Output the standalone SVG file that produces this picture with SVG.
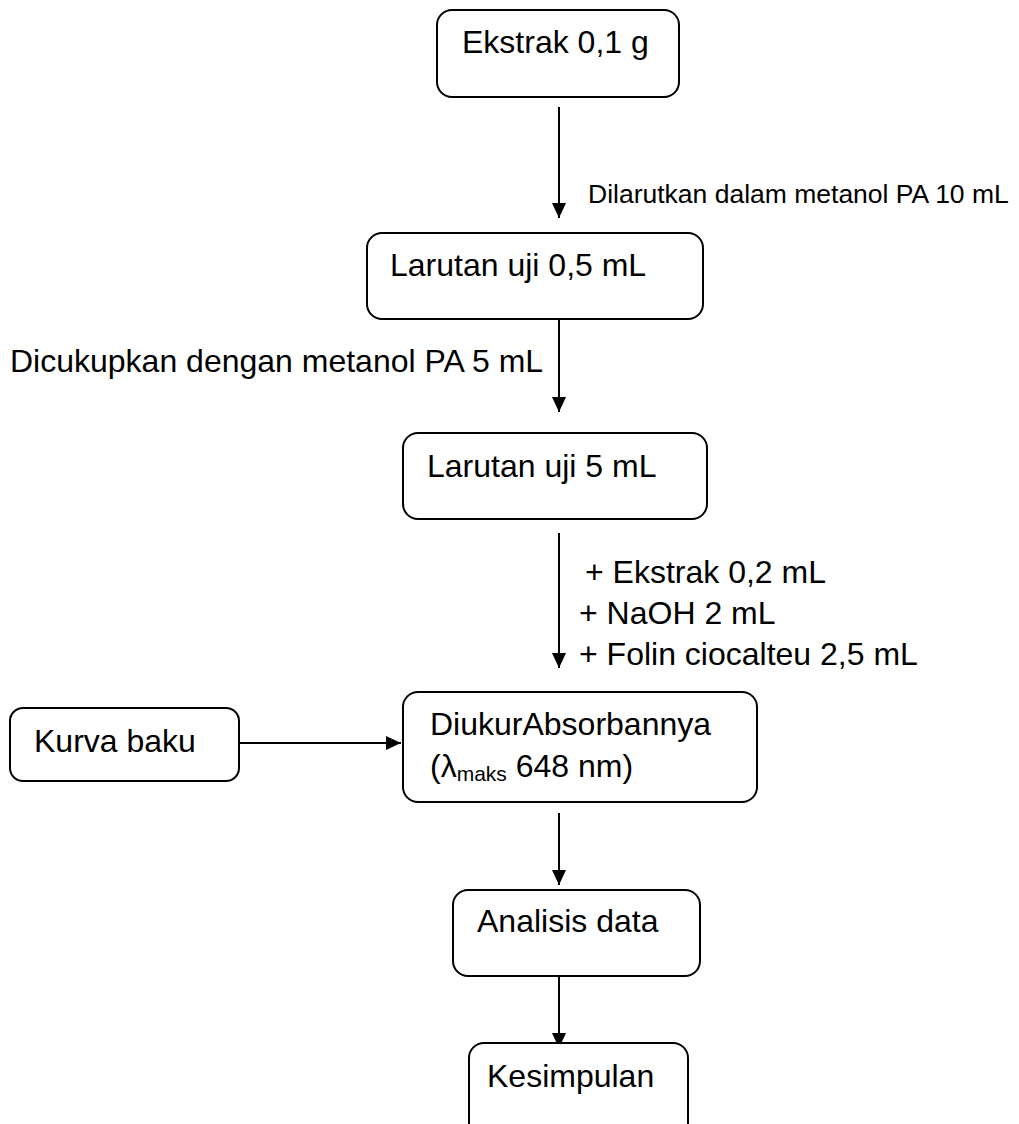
<svg xmlns="http://www.w3.org/2000/svg" width="1019" height="1124" viewBox="0 0 1019 1124">
<style>
.box{fill:#fff;stroke:#000;stroke-width:2}
.t{font-family:"Liberation Sans",Arial,sans-serif;font-size:32px;fill:#000}
.s{font-size:26.5px}
.c{stroke:#000;stroke-width:2;fill:none}
</style>
<defs>
<marker id="ah" markerUnits="userSpaceOnUse" markerWidth="15" markerHeight="14" refX="15" refY="7" orient="auto" viewBox="0 0 15 14">
<path d="M0,0 L15,7 L0,14 Z" fill="#000"/>
</marker>
</defs>
<rect width="1019" height="1124" fill="#fff"/>
<g id="connectors">
<path class="c" d="M559,107 V218" marker-end="url(#ah)"/>
<path class="c" d="M559,319 V412" marker-end="url(#ah)"/>
<path class="c" d="M559,533 V668" marker-end="url(#ah)"/>
<path class="c" d="M239,743 H401" marker-end="url(#ah)"/>
<path class="c" d="M559,813 V885" marker-end="url(#ah)"/>
<path class="c" d="M559,976 V1048" marker-end="url(#ah)"/>
<text class="t s" x="588" y="203">Dilarutkan dalam metanol PA 10 mL</text>
<text class="t" x="10" y="372">Dicukupkan dengan metanol PA 5 mL</text>
<text class="t" x="585" y="583">+ Ekstrak 0,2 mL</text>
<text class="t" x="579" y="624">+ NaOH 2 mL</text>
<text class="t" x="579" y="665">+ Folin ciocalteu 2,5 mL</text>
</g>
<g id="n1">
<rect class="box" x="437" y="10" width="242" height="87" rx="15"/>
<text class="t" x="462" y="53">Ekstrak 0,1 g</text>
</g>
<g id="n2">
<rect class="box" x="367" y="233" width="336" height="86" rx="15"/>
<text class="t" x="390" y="276">Larutan uji 0,5 mL</text>
</g>
<g id="n3">
<rect class="box" x="403" y="433" width="304" height="86" rx="15"/>
<text class="t" x="427" y="477">Larutan uji 5 mL</text>
</g>
<g id="n4">
<rect class="box" x="10" y="708" width="229" height="73" rx="13"/>
<text class="t" x="34" y="752">Kurva baku</text>
</g>
<g id="n5">
<rect class="box" x="403" y="692" width="354" height="110" rx="15"/>
<text class="t" x="430" y="735">DiukurAbsorbannya</text>
<text class="t" x="430" y="777">(λ<tspan font-size="21" dy="4">maks</tspan><tspan dy="-4"> 648 nm)</tspan></text>
</g>
<g id="n6">
<rect class="box" x="453" y="890" width="247" height="86" rx="15"/>
<text class="t" x="477" y="932">Analisis data</text>
</g>
<g id="n7">
<rect class="box" x="469" y="1043" width="219" height="100" rx="15"/>
<text class="t" x="487" y="1087">Kesimpulan</text>
</g>
</svg>
